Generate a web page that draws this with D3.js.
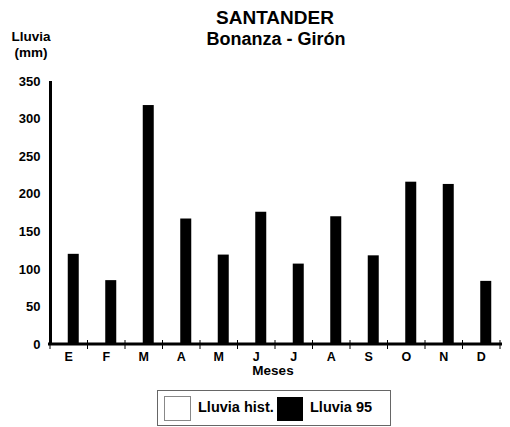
<!DOCTYPE html>
<html><head><meta charset="utf-8">
<script src="https://cdn.jsdelivr.net/npm/d3@7"></script>
<style>body{margin:0;background:#fff}svg{display:block;font-family:"Liberation Sans",Arial,sans-serif;font-weight:bold}</style>
</head><body>
<script>
const months = ["E","F","M","A","M","J","J","A","S","O","N","D"];
const series = ["Lluvia hist.","Lluvia 95"];
const lluvia95 = [120,85,318,167,119,176,107,170,118,216,213,84];
const yTicks = [0,50,100,150,200,250,300,350];

const W=510,H=427;
const svg=d3.select("body").append("svg").attr("width",W).attr("height",H);
const keys=months.map((d,i)=>i);
const x=d3.scaleBand().domain(keys).range([50,500]).padding(0);
const x1=d3.scaleBand().domain(series).range([x.bandwidth()/2-12,x.bandwidth()/2+10]).padding(0);
const y=d3.scaleLinear().domain([0,350]).range([344,81]);

// title
svg.append("text").attr("x",275).attr("y",24).attr("text-anchor","middle").attr("font-size",19).text("SANTANDER");
svg.append("text").attr("x",276).attr("y",45).attr("text-anchor","middle").attr("font-size",18).text("Bonanza - Girón");
svg.append("text").attr("x",31).attr("y",41).attr("text-anchor","middle").attr("font-size",13.5).text("Lluvia");
svg.append("text").attr("x",31).attr("y",57).attr("text-anchor","middle").attr("font-size",13.5).text("(mm)");

// bars
svg.append("g").selectAll("rect").data(lluvia95).join("rect")
  .attr("x",(d,i)=>x(i)+x1("Lluvia 95")).attr("width",x1.bandwidth())
  .attr("y",d=>y(d)).attr("height",d=>y(0)-y(d)).attr("fill","#000");

// y axis
const ya=svg.append("g").attr("transform","translate(50.5,0)")
  .call(d3.axisLeft(y).tickValues(yTicks).tickSize(0).tickPadding(10));
ya.select(".domain").attr("stroke","#000").attr("stroke-width",3).attr("d","M0,345V81");
ya.selectAll("text").attr("font-size",13).attr("font-family","Liberation Sans,Arial").attr("font-weight","bold").attr("fill","#000");

// x axis
const xa=svg.append("g").attr("transform","translate(0,344)")
  .call(d3.axisBottom(x).tickFormat(i=>months[i]).tickSize(0).tickPadding(8));
xa.select(".domain").attr("stroke","#000").attr("stroke-width",3).attr("d","M48,0H502");
xa.selectAll("text").attr("font-size",12.5).attr("font-family","Liberation Sans,Arial").attr("font-weight","bold").attr("fill","#000");
const bounds=d3.range(13).map(i=>50+i*x.step());
xa.selectAll("line.bt").data(bounds).join("line").attr("class","bt")
  .attr("x1",d=>d).attr("x2",d=>d).attr("y1",-4).attr("y2",5).attr("stroke","#000").attr("stroke-width",1);
svg.append("text").attr("x",273).attr("y",375).attr("text-anchor","middle").attr("font-size",13.5).text("Meses");

// legend
const lg=svg.append("g");
lg.append("rect").attr("x",157.5).attr("y",390.5).attr("width",233).attr("height",35).attr("fill","#fff").attr("stroke","#666");
lg.append("rect").attr("x",164.5).attr("y",396.5).attr("width",26).attr("height",24).attr("fill","#fff").attr("stroke","#888");
lg.append("text").attr("x",198).attr("y",412).attr("font-size",14.5).text(series[0]);
lg.append("rect").attr("x",277).attr("y",397).attr("width",26).attr("height",24).attr("fill","#000");
lg.append("text").attr("x",310).attr("y",412).attr("font-size",14.5).text(series[1]);
</script>
</body></html>
